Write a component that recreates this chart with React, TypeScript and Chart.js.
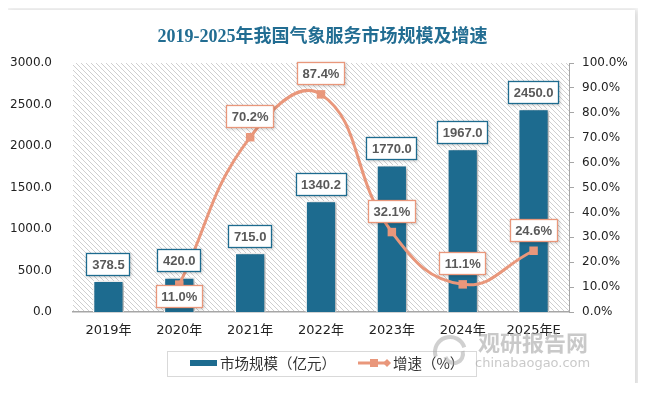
import React, { useEffect, useRef } from 'react';
import { Chart, registerables } from 'chart.js';

Chart.register(...registerables);

const titleText = '2019-2025年我国气象服务市场规模及增速';
const categories = ['2019年', '2020年', '2021年', '2022年', '2023年', '2024年', '2025年E'];
const marketSize = [378.5, 420.0, 715.0, 1340.2, 1770.0, 1967.0, 2450.0];
const growthRate = [null, 11.0, 70.2, 87.4, 32.1, 11.1, 24.6];
const seriesNames = ['市场规模（亿元）', '增速（%）'];

const BAR_COLOR = '#1d6b8f';
const LINE_COLOR = '#e9977b';
const LABEL_FONT = 'bold 13px "Liberation Sans", Arial, sans-serif';
const TICK_FONT_FAMILY = '"DejaVu Sans", "Noto Sans CJK SC", sans-serif';

function drawLabelBox(ctx: CanvasRenderingContext2D, text: string, cx: number, top: number, border: string) {
  ctx.save();
  ctx.font = LABEL_FONT;
  const w = Math.round(ctx.measureText(text).width + 11);
  const h = 23;
  const x = Math.round(cx - w / 2);
  const y = Math.round(top);
  ctx.shadowColor = 'rgba(0,0,0,0.22)';
  ctx.shadowBlur = 3;
  ctx.shadowOffsetX = 1;
  ctx.shadowOffsetY = 1;
  ctx.fillStyle = '#ffffff';
  ctx.fillRect(x, y, w, h);
  ctx.shadowColor = 'transparent';
  ctx.strokeStyle = border;
  ctx.lineWidth = 1.3;
  ctx.strokeRect(x + 0.5, y + 0.5, w - 1, h - 1);
  ctx.fillStyle = '#595959';
  ctx.textAlign = 'center';
  ctx.textBaseline = 'middle';
  ctx.fillText(text, cx, y + h / 2 + 1);
  ctx.restore();
}

const hatchPlugin = {
  id: 'hatchBg',
  beforeDraw(chart: any) {
    const { ctx, chartArea: a } = chart;
    const tile = document.createElement('canvas');
    tile.width = 5;
    tile.height = 5;
    const t = tile.getContext('2d')!;
    t.fillStyle = '#cfcfcf';
    for (let i = 0; i < 5; i++) t.fillRect(i, i, 1, 1);
    const pat = ctx.createPattern(tile, 'repeat');
    ctx.save();
    ctx.fillStyle = pat;
    ctx.fillRect(a.left, a.top, a.right - a.left, a.bottom - a.top);
    ctx.restore();
  },
};

const barShadowPlugin = {
  id: 'barShadow',
  beforeDatasetDraw(chart: any, args: any) {
    if (args.meta.type === 'bar') {
      const ctx = chart.ctx;
      ctx.save();
      ctx.shadowColor = 'rgba(0,0,0,0.35)';
      ctx.shadowBlur = 4;
      ctx.shadowOffsetX = 2;
      ctx.shadowOffsetY = 1;
    }
  },
  afterDatasetDraw(chart: any, args: any) {
    if (args.meta.type === 'bar') chart.ctx.restore();
  },
};

const labelsPlugin = {
  id: 'boxLabels',
  afterDatasetsDraw(chart: any, _args: any, opts: any) {
    const ctx = chart.ctx;
    chart.data.datasets.forEach((ds: any, di: number) => {
      const meta = chart.getDatasetMeta(di);
      meta.data.forEach((el: any, i: number) => {
        const v = ds.data[i];
        if (v === null || v === undefined) return;
        if (meta.type === 'bar') {
          drawLabelBox(ctx, v.toFixed(1), el.x, el.y - 5 - 23, BAR_COLOR);
        } else {
          const below = (opts.belowIndexes || []).includes(i);
          const top = below ? el.y : el.y - 9 - 23;
          drawLabelBox(ctx, v.toFixed(1) + '%', el.x, top, LINE_COLOR);
        }
      });
    });
  },
};

const decorPlugin = {
  id: 'decor',
  afterDraw(chart: any) {
    const ctx: CanvasRenderingContext2D = chart.ctx;
    const W = chart.width;
    // title
    ctx.save();
    ctx.font = 'bold 18px "Liberation Serif", "DejaVu Serif", "Noto Sans CJK SC", serif';
    ctx.fillStyle = '#226d92';
    ctx.textAlign = 'center';
    ctx.textBaseline = 'middle';
    ctx.fillText(titleText, W / 2 + 1, 27);
    ctx.restore();

    // legend
    const names = chart.data.datasets.map((d: any) => d.label);
    ctx.save();
    ctx.strokeStyle = '#d9d9d9';
    ctx.lineWidth = 1;
    ctx.strokeRect(159.5, 341.5, 309, 25);
    const cy = 353;
    ctx.fillStyle = BAR_COLOR;
    ctx.fillRect(182, cy - 3, 27, 6);
    ctx.font = '14.5px "Noto Sans CJK SC", sans-serif';
    ctx.fillStyle = '#333333';
    ctx.textAlign = 'left';
    ctx.textBaseline = 'middle';
    ctx.fillText(names[1], 212, cy);
    ctx.strokeStyle = LINE_COLOR;
    ctx.lineWidth = 3;
    ctx.beginPath();
    ctx.moveTo(350, cy);
    ctx.lineTo(380, cy);
    ctx.stroke();
    ctx.fillStyle = LINE_COLOR;
    ctx.fillRect(362, cy - 4, 8, 8);
    ctx.beginPath();
    ctx.moveTo(383, cy);
    ctx.lineTo(379, cy - 4);
    ctx.lineTo(375, cy);
    ctx.lineTo(379, cy + 4);
    ctx.closePath();
    ctx.fill();
    ctx.fillStyle = '#333333';
    ctx.fillText(names[0], 385, cy);
    ctx.restore();

    // watermark
    ctx.save();
    ctx.strokeStyle = 'rgba(170,170,170,0.55)';
    ctx.lineWidth = 4;
    ctx.beginPath();
    ctx.arc(442, 342, 15, Math.PI * 0.9, Math.PI * 1.9);
    ctx.stroke();
    ctx.beginPath();
    ctx.arc(446, 344, 9, Math.PI * -0.1, Math.PI * 0.9);
    ctx.stroke();
    ctx.fillStyle = 'rgba(165,165,165,0.6)';
    ctx.font = 'bold 22px "Noto Sans CJK SC", sans-serif';
    ctx.textAlign = 'left';
    ctx.textBaseline = 'middle';
    ctx.fillText('观研报告网', 470, 333);
    ctx.font = '13px "DejaVu Sans", sans-serif';
    ctx.fillText('chinabaogao.com', 467, 354);
    ctx.restore();
  },
};

export default function App() {
  const canvasRef = useRef<HTMLCanvasElement | null>(null);

  useEffect(() => {
    if (!canvasRef.current) return;
    const chart = new Chart(canvasRef.current, {
      type: 'bar',
      data: {
        labels: categories,
        datasets: [
          {
            type: 'line',
            label: seriesNames[1],
            data: growthRate,
            yAxisID: 'y1',
            borderColor: LINE_COLOR,
            backgroundColor: LINE_COLOR,
            borderWidth: 3,
            tension: 0.45,
            pointStyle: 'rect',
            pointRadius: 6,
            pointBorderWidth: 0,
            pointBackgroundColor: LINE_COLOR,
            order: 0,
          } as any,
          {
            type: 'bar',
            label: seriesNames[0],
            data: marketSize,
            yAxisID: 'y',
            backgroundColor: BAR_COLOR,
            borderColor: '#ffffff',
            borderWidth: 1.5,
            barPercentage: 0.44,
            categoryPercentage: 1,
            order: 1,
          } as any,
        ],
      },
      options: {
        responsive: false,
        animation: false,
        layout: { padding: { top: 53, left: 0, right: 0, bottom: 0 } },
        plugins: {
          legend: { display: false },
          title: { display: false },
          tooltip: { enabled: false },
          boxLabels: { belowIndexes: [1] },
        } as any,
        scales: {
          x: {
            grid: { display: true, drawOnChartArea: false, drawTicks: false },
            border: { display: true, color: '#a6a6a6', width: 1.5 },
            ticks: {
              color: '#222222',
              font: { family: TICK_FONT_FAMILY, size: 13 },
              padding: 11,
              maxRotation: 0,
            },
            afterFit(scale: any) {
              scale.height = 73;
            },
          },
          y: {
            position: 'left',
            min: 0,
            max: 3000,
            grid: { display: false },
            border: { display: false },
            ticks: {
              stepSize: 500,
              color: '#222222',
              font: { family: TICK_FONT_FAMILY, size: 12 },
              padding: 13,
              callback: (v: any) => Number(v).toFixed(1),
            },
            afterFit(scale: any) {
              scale.width = 65;
            },
          },
          y1: {
            position: 'right',
            min: 0,
            max: 100,
            grid: { display: true, drawOnChartArea: false, drawTicks: true, tickLength: 5, color: '#a6a6a6' },
            border: { display: true, color: '#a6a6a6', width: 1 },
            ticks: {
              stepSize: 10,
              color: '#222222',
              font: { family: TICK_FONT_FAMILY, size: 12 },
              padding: 8,
              callback: (v: any) => Number(v).toFixed(1) + '%',
            },
            afterFit(scale: any) {
              scale.width = 66;
            },
          },
        },
      } as any,
      plugins: [hatchPlugin, barShadowPlugin, labelsPlugin, decorPlugin],
    });
    return () => chart.destroy();
  }, []);

  return (
    <div
      style={{
        position: 'relative',
        top: 2,
        width: 627,
        height: 375,
        background: '#ffffff',
        boxShadow: '1px 2px 8px 3px rgba(0,0,0,0.16)',
      }}
    >
      <canvas ref={canvasRef} width={627} height={375} style={{ display: 'block', width: 627, height: 375 }} />
    </div>
  );
}
